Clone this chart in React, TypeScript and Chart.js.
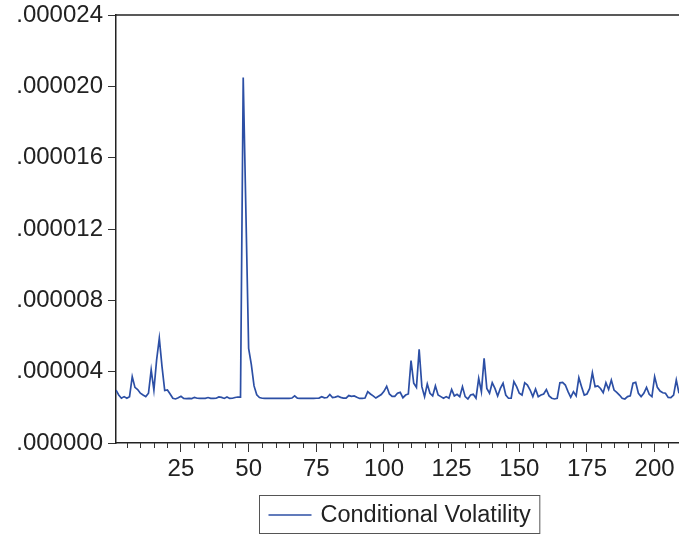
import { useEffect, useRef } from 'react';
import { Chart, registerables } from 'chart.js';

Chart.register(...registerables);

// Conditional volatility, in units of 1e-6 (observation 1..209)
const condVolE6: number[] = [
  2.97, 2.69, 2.51, 2.60, 2.51, 2.60, 3.72, 3.12, 3.00, 2.79,
  2.69, 2.60, 2.79, 4.10, 2.97, 4.65, 5.87, 4.28, 2.94, 2.97,
  2.75, 2.51, 2.47, 2.54, 2.62, 2.50, 2.49, 2.50, 2.49, 2.56,
  2.51, 2.50, 2.51, 2.50, 2.55, 2.50, 2.50, 2.51, 2.58, 2.56,
  2.50, 2.58, 2.50, 2.51, 2.55, 2.58, 2.57, 20.50, 12.90, 5.30,
  4.40, 3.20, 2.70, 2.55, 2.51, 2.50, 2.50, 2.51, 2.50, 2.50,
  2.51, 2.50, 2.50, 2.51, 2.50, 2.52, 2.64, 2.51, 2.50, 2.50,
  2.50, 2.51, 2.50, 2.50, 2.51, 2.52, 2.60, 2.53, 2.55, 2.72,
  2.55, 2.57, 2.62, 2.56, 2.52, 2.52, 2.66, 2.62, 2.64, 2.56,
  2.50, 2.50, 2.52, 2.88, 2.75, 2.64, 2.52, 2.62, 2.72, 2.90,
  3.18, 2.75, 2.62, 2.62, 2.79, 2.84, 2.54, 2.69, 2.75, 4.62,
  3.35, 3.12, 5.25, 3.16, 2.60, 3.31, 2.79, 2.64, 3.20, 2.69,
  2.60, 2.51, 2.60, 2.51, 3.00, 2.64, 2.73, 2.60, 3.16, 2.60,
  2.47, 2.69, 2.73, 2.51, 3.63, 2.88, 4.75, 3.06, 2.79, 3.38,
  3.06, 2.64, 3.06, 3.35, 2.69, 2.51, 2.51, 3.44, 3.16, 2.79,
  2.69, 3.38, 3.25, 2.97, 2.60, 3.03, 2.60, 2.69, 2.75, 3.00,
  2.64, 2.51, 2.47, 2.51, 3.38, 3.40, 3.25, 2.88, 2.56, 2.88,
  2.64, 3.66, 3.16, 2.69, 2.75, 3.06, 3.94, 3.16, 3.20, 3.06,
  2.82, 3.38, 3.00, 3.53, 2.97, 2.84, 2.69, 2.51, 2.47, 2.60,
  2.64, 3.35, 3.40, 2.79, 2.60, 2.79, 3.12, 2.73, 2.60, 3.72,
  3.12, 2.91, 2.82, 2.79, 2.56, 2.54, 2.69, 3.53, 2.79,
];

const xMajorTicks: number[] = [25, 50, 75, 100, 125, 150, 175, 200];
const xMinorTicks: number[] = [
  5, 10, 15, 20, 30, 35, 40, 45, 55, 60, 65, 70, 80, 85, 90, 95,
  105, 110, 115, 120, 130, 135, 140, 145, 155, 160, 165, 170,
  180, 185, 190, 195, 205,
];
const yTicksE6: number[] = [0, 4, 8, 12, 16, 20, 24];
const seriesLabel = 'Conditional Volatility';

const LINE_COLOR = '#2c4fa5';
const AXIS_COLOR = '#222222';
const TEXT_COLOR = '#222222';
const FONT_FAMILY = '"Liberation Sans", Arial, Helvetica, sans-serif';

const framePlugin = {
  id: 'framePlugin',
  afterDraw(chart: any) {
    const { ctx, chartArea: a, scales } = chart;
    ctx.save();
    // top frame line
    ctx.strokeStyle = AXIS_COLOR;
    ctx.lineWidth = 1.5;
    ctx.beginPath();
    ctx.moveTo(a.left, a.top);
    ctx.lineTo(a.right, a.top);
    ctx.stroke();
    // minor x ticks
    ctx.lineWidth = 1;
    ctx.strokeStyle = '#333333';
    ctx.beginPath();
    for (const v of xMinorTicks) {
      const px = Math.round(scales.x.getPixelForValue(v)) + 0.5;
      ctx.moveTo(px, a.bottom);
      ctx.lineTo(px, a.bottom + 5);
    }
    ctx.stroke();

    // legend box
    ctx.font = `23.5px ${FONT_FAMILY}`;
    const label = chart.data.datasets[0].label;
    const tw = ctx.measureText(label).width;
    const lineLen = 43;
    const w = 9 + lineLen + 9 + tw + 9;
    const cx = (a.left + a.right) / 2 + 2;
    const left = Math.round(cx - w / 2) + 0.5;
    const top = 495.5;
    const h = 38;
    ctx.strokeStyle = '#555555';
    ctx.lineWidth = 1;
    ctx.strokeRect(left, top, w, h);
    ctx.strokeStyle = LINE_COLOR;
    ctx.lineWidth = 1.6;
    ctx.beginPath();
    ctx.moveTo(left + 9, top + 19.5);
    ctx.lineTo(left + 9 + lineLen, top + 19.5);
    ctx.stroke();
    ctx.fillStyle = TEXT_COLOR;
    ctx.textBaseline = 'middle';
    ctx.textAlign = 'left';
    ctx.fillText(label, left + 9 + lineLen + 9, top + 20);
    ctx.restore();
  },
};

export default function App() {
  const canvasRef = useRef<HTMLCanvasElement | null>(null);

  useEffect(() => {
    const canvas = canvasRef.current;
    if (!canvas) return;
    const points = condVolE6.map((v, i) => ({ x: i + 1, y: v }));
    const chart = new Chart(canvas, {
      type: 'line',
      data: {
        datasets: [
          {
            label: seriesLabel,
            data: points,
            borderColor: LINE_COLOR,
            backgroundColor: LINE_COLOR,
            borderWidth: 1.7,
            pointRadius: 0,
            tension: 0,
            fill: false,
          },
        ],
      },
      options: {
        responsive: false,
        animation: false,
        layout: { padding: { top: 15, right: 0, bottom: 52, left: 0 } },
        plugins: {
          legend: { display: false },
          tooltip: { enabled: false },
        },
        scales: {
          x: {
            type: 'linear',
            min: 1,
            max: condVolE6.length,
            afterBuildTicks: (scale: any) => {
              scale.ticks = xMajorTicks.map((v) => ({ value: v }));
            },
            afterFit: (scale: any) => {
              scale.height = 40;
              scale.paddingLeft = 0;
              scale.paddingRight = 0;
            },
            grid: {
              display: true,
              drawOnChartArea: false,
              drawTicks: true,
              tickLength: 9,
              tickColor: '#333333',
              tickWidth: 1,
            },
            border: { display: true, color: AXIS_COLOR, width: 1.5 },
            ticks: {
              autoSkip: false,
              maxRotation: 0,
              padding: 3,
              color: TEXT_COLOR,
              font: { family: FONT_FAMILY, size: 24 },
              callback: (v: any) => String(v),
            },
          },
          y: {
            type: 'linear',
            min: 0,
            max: 24,
            afterBuildTicks: (scale: any) => {
              scale.ticks = yTicksE6.map((v) => ({ value: v }));
            },
            afterFit: (scale: any) => {
              scale.width = 116;
              scale.paddingTop = 0;
              scale.paddingBottom = 0;
            },
            grid: {
              display: true,
              drawOnChartArea: false,
              drawTicks: true,
              tickLength: 8,
              tickColor: '#333333',
              tickWidth: 1,
            },
            border: { display: true, color: AXIS_COLOR, width: 1.5 },
            ticks: {
              padding: 5,
              color: TEXT_COLOR,
              font: { family: FONT_FAMILY, size: 24 },
              callback: (v: any) => '.' + String(Math.round(Number(v))).padStart(6, '0'),
            },
          },
        },
      },
      plugins: [framePlugin],
    });
    return () => chart.destroy();
  }, []);

  return (
    <div style={{ position: 'absolute', left: 0, top: 0, width: 679, height: 535, background: '#ffffff' }}>
      <canvas ref={canvasRef} width={679} height={535} style={{ display: 'block' }} />
    </div>
  );
}
